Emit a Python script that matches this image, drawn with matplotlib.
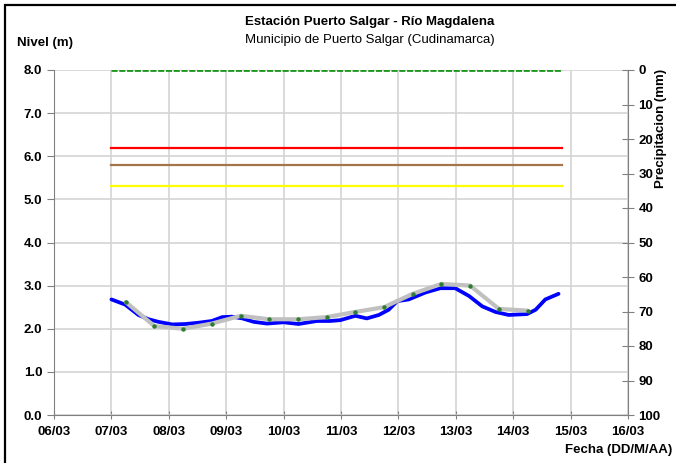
import matplotlib
matplotlib.use('Agg')
import matplotlib.pyplot as plt
from matplotlib.patches import Rectangle
import numpy as np

plt.rcParams['font.family'] = ['Liberation Sans', 'DejaVu Sans']

# x values are days counted from 06/03 00:00
day_labels = ['06/03', '07/03', '08/03', '09/03', '10/03', '11/03',
              '12/03', '13/03', '14/03', '15/03', '16/03']

nivel_t = [1.00, 1.24, 1.47, 1.65, 1.82, 2.06, 2.29, 2.52, 2.75, 2.93, 3.10,
           3.28, 3.48, 3.71, 4.00, 4.26, 4.58, 4.81, 4.99, 5.25, 5.45, 5.66,
           5.83, 5.98, 6.18, 6.47, 6.73, 6.99, 7.23, 7.46, 7.69, 7.92, 8.24,
           8.39, 8.56, 8.79]
nivel = [2.68, 2.56, 2.32, 2.22, 2.16, 2.10, 2.11, 2.14, 2.18, 2.27, 2.28,
         2.24, 2.16, 2.12, 2.15, 2.11, 2.18, 2.18, 2.20, 2.30, 2.24, 2.32,
         2.44, 2.64, 2.68, 2.84, 2.94, 2.94, 2.76, 2.52, 2.39, 2.32, 2.34,
         2.44, 2.68, 2.81]

# smoothed level (grey line with green markers)
suav_t = [1.25, 1.75, 2.25, 2.75, 3.25, 3.75, 4.25, 4.75, 5.25, 5.75,
          6.25, 6.75, 7.25, 7.75, 8.25]
suav = [2.62, 2.06, 2.00, 2.12, 2.30, 2.22, 2.22, 2.27, 2.39, 2.50,
        2.81, 3.04, 3.00, 2.46, 2.42]

# reference levels drawn from 07/03 to end of record
umbral_t = [1.0, 8.85]
nivel_max = 8.0
alerta_roja = 6.2
alerta_naranja = 5.8
alerta_amarilla = 5.3

fig = plt.figure(figsize=(6.76, 4.63), dpi=100)
ax = fig.add_axes([54/676, 1-415/463, (628-54)/676, (415-70)/463])

ax.set_xlim(0, 10)
ax.set_ylim(0, 8)
ax.set_xticks(range(11))
ax.set_xticklabels(day_labels)
ax.set_yticks(np.arange(0, 8.1, 1))
ax.set_yticklabels(['%.1f' % v for v in np.arange(0, 8.1, 1)])
ax.grid(True, color='#d4d4d4', lw=1.2)
ax.set_axisbelow(True)

for s in ['left', 'bottom']:
    ax.spines[s].set_color('#808080')
for s in ['top', 'right']:
    ax.spines[s].set_visible(False)

ax.tick_params(axis='y', direction='out', length=5, color='#808080', labelsize=9.5)
ax.tick_params(axis='x', direction='inout', length=6, color='#808080', labelsize=9.5, pad=5)
for lbl in ax.get_xticklabels() + ax.get_yticklabels():
    lbl.set_fontweight('bold')

ax.plot(umbral_t, [nivel_max]*2, color='#1e961e', lw=2, dashes=(2.2, 0.6), zorder=3)
ax.plot(umbral_t, [alerta_roja]*2, color='#ff0000', lw=1.6, zorder=3)
ax.plot(umbral_t, [alerta_naranja]*2, color='#a5744a', lw=1.6, zorder=3)
ax.plot(umbral_t, [alerta_amarilla]*2, color='#ffff00', lw=1.6, zorder=3)

ax.plot(nivel_t, nivel, color='#0000ff', lw=2.7, zorder=4, solid_capstyle='round')
ax.plot(suav_t, suav, color='#c0c0c0', lw=3, zorder=5, solid_capstyle='round')
ax.plot(suav_t, suav, ls='none', marker='o', ms=2.2, color='#2e7d32', zorder=6)

ax2 = ax.twinx()
ax2.set_ylim(100, 0)
ax2.set_yticks(range(0, 101, 10))
for s in ['top', 'left', 'bottom']:
    ax2.spines[s].set_visible(False)
ax2.spines['right'].set_color('#808080')
ax2.tick_params(axis='y', direction='inout', length=8, color='#808080', labelsize=9.5)
for lbl in ax2.get_yticklabels():
    lbl.set_fontweight('bold')

fig.text(370/676, 1-22/463, 'Estación Puerto Salgar - Río Magdalena',
         ha='center', va='center', fontsize=9.5, fontweight='bold')
fig.text(370/676, 1-40/463, 'Municipio de Puerto Salgar (Cudinamarca)',
         ha='center', va='center', fontsize=9.5)
fig.text(17/676, 1-43/463, 'Nivel (m)', ha='left', va='center',
         fontsize=9.5, fontweight='bold')
fig.text(672/676, 1-450/463, 'Fecha (DD/M/AA)', ha='right', va='center',
         fontsize=9.5, fontweight='bold')
fig.text(661/676, 1-128/463, 'Precipitacion (mm)', ha='center', va='center',
         rotation=90, fontsize=9.5, fontweight='bold')

fig.patches.append(Rectangle((5/676, -0.2), 2, 1.2 - 5/463, transform=fig.transFigure,
                             fill=False, ec='black', lw=1.6))

fig.savefig('out.png', dpi=100)
